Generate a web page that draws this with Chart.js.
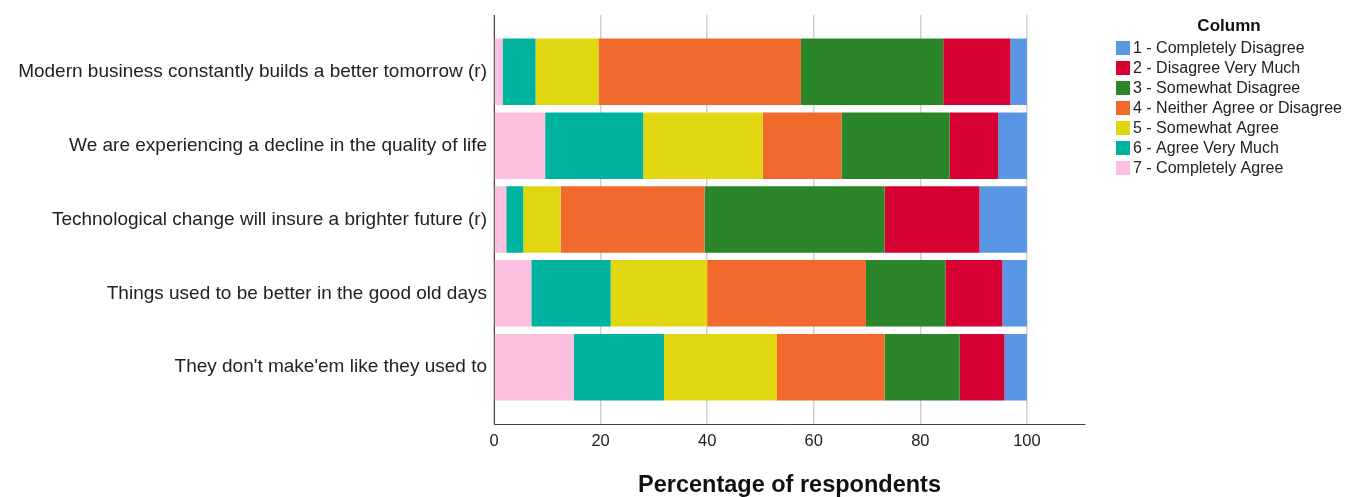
<!DOCTYPE html>
<html>
<head>
<meta charset="utf-8">
<title>Percentage of respondents</title>
<script src="https://cdn.jsdelivr.net/npm/chart.js@4/dist/chart.umd.min.js"></script>
<style>
  html, body { margin: 0; padding: 0; background: #fff; }
  #chart-wrap { width: 1346px; height: 497px; }
</style>
</head>
<body>
<div id="chart-wrap"><canvas id="my-chart"></canvas></div>
<script>
'use strict';

// *********** DATA ****************

let categories = [
  'Modern business constantly builds a better tomorrow (r)',
  'We are experiencing a decline in the quality of life',
  'Technological change will insure a brighter future (r)',
  'Things used to be better in the good old days',
  'They don\'t make\'em like they used to'
];

let seriesNames = [
  '1 - Completely Disagree',
  '2 - Disagree Very Much',
  '3 - Somewhat Disagree',
  '4 - Neither Agree or Disagree',
  '5 - Somewhat Agree',
  '6 - Agree Very Much',
  '7 - Completely Agree'
];

// percent of respondents, one value per category
let completelyDisagree = [3.1, 5.4, 8.9, 4.6, 4.2];
let disagreeVeryMuch = [12.6, 9.1, 17.8, 10.7, 8.4];
let somewhatDisagree = [26.7, 20.3, 33.8, 14.9, 14.1];
let neitherAgree = [38.0, 14.8, 27.0, 29.8, 20.2];
let somewhatAgree = [11.8, 22.4, 7.0, 18.1, 21.2];
let agreeVeryMuch = [6.2, 18.4, 3.2, 14.9, 16.9];
let completelyAgree = [1.6, 9.6, 2.3, 7.0, 15.0];

let xTicks = [0, 20, 40, 60, 80, 100];

let seriesColors = ['#5996e3', '#d70032', '#2a852b', '#f2692d', '#e1d710', '#00b39e', '#fdbfdf'];

let allSeries = [completelyDisagree, disagreeVeryMuch, somewhatDisagree, neitherAgree,
  somewhatAgree, agreeVeryMuch, completelyAgree];

let fontFamily = '"Liberation Sans", Arial, sans-serif';

// ********** BUILD DATASETS ***************
// "7 - Completely Agree" sits at the left, so stack from the last series
let datasets = [];
for (let i = allSeries.length - 1; i >= 0; i--) {
  datasets.push({
    label: seriesNames[i],
    data: allSeries[i],
    backgroundColor: seriesColors[i],
    borderWidth: 0,
    categoryPercentage: 0.9,
    barPercentage: 1
  });
}

// ********** LEGEND PLUGIN ***************
let sideLegend = {
  id: 'sideLegend',
  afterDraw(chart) {
    let c = chart.ctx;
    c.save();
    c.fillStyle = '#111';
    c.font = 'bold 17px ' + fontFamily;
    c.textAlign = 'center';
    c.textBaseline = 'middle';
    c.fillText('Column', 1229, 26);

    c.font = '16px ' + fontFamily;
    c.textAlign = 'left';
    let ds = chart.data.datasets;
    for (let i = 0; i < ds.length; i++) {
      let d = ds[ds.length - 1 - i];
      let y = 48 + i * 20;
      c.fillStyle = d.backgroundColor;
      c.fillRect(1116, y - 7, 14, 14);
      c.fillStyle = '#222';
      c.fillText(d.label, 1133, y + 1);
    }
    c.restore();
  }
};

// ********** CHART ***************
let ctx = document.getElementById('my-chart').getContext('2d');

new Chart(ctx, {
  type: 'bar',
  data: {
    labels: categories.map((c, i) => i),
    datasets: datasets
  },
  options: {
    indexAxis: 'y',
    responsive: true,
    maintainAspectRatio: false,
    animation: false,
    layout: { padding: { top: 15, right: 261, bottom: 0, left: 0 } },
    plugins: {
      legend: { display: false },
      tooltip: { enabled: false }
    },
    scales: {
      x: {
        type: 'linear',
        stacked: true,
        min: 0,
        max: 110.9,
        afterBuildTicks: (s) => { s.ticks = xTicks.map(v => ({ value: v })); },
        afterFit: (s) => { s.height = 73; },
        grid: { color: '#d0d0d0', lineWidth: 1.5, drawTicks: false },
        border: { color: '#444', width: 1 },
        ticks: {
          padding: 8,
          color: '#222',
          font: { family: fontFamily, size: 16.5 }
        },
        title: {
          display: true,
          text: 'Percentage of respondents',
          color: '#111',
          padding: { top: 0, bottom: 0 },
          font: { family: fontFamily, size: 23.5, weight: 'bold', lineHeight: 1 }
        }
      },
      y: {
        type: 'linear',
        stacked: true,
        reverse: true,
        offset: false,
        min: -0.77,
        max: 4.77,
        afterBuildTicks: (s) => { s.ticks = categories.map((c, i) => ({ value: i })); },
        afterFit: (s) => {
          s.width = 494;
          s.paddingTop = 0;
          s.paddingBottom = 0;
        },
        grid: { display: false, drawTicks: false, offset: false },
        border: { color: '#444', width: 1 },
        ticks: {
          padding: 7,
          color: '#222',
          callback: (v) => categories[v],
          font: { family: fontFamily, size: 19 }
        }
      }
    }
  },
  plugins: [sideLegend]
});
</script>
</body>
</html>
